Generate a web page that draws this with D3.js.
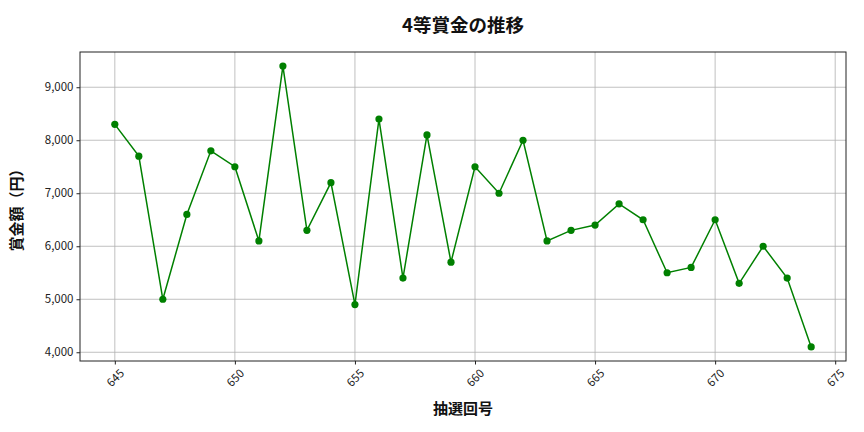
<!DOCTYPE html>
<meta charset="utf-8">
<script src="https://d3js.org/d3.v7.min.js"></script>
<style>
  body { margin: 0; background: #fff; }
  text { font-family: "Noto Sans CJK JP", "Noto Sans", sans-serif; }
</style>
<svg id="chart" width="864" height="432"></svg>
<script>
// draw numbers (抽選回号) and 4th prize amounts (円)
var draws = [645, 646, 647, 648, 649, 650, 651, 652, 653, 654, 655, 656, 657, 658, 659,
             660, 661, 662, 663, 664, 665, 666, 667, 668, 669, 670, 671, 672, 673, 674]
var prizes = [8300, 7700, 5000, 6600, 7800, 7500, 6100, 9400, 6300, 7200, 4900, 8400, 5400, 8100, 5700,
              7500, 7000, 8000, 6100, 6300, 6400, 6800, 6500, 5500, 5600, 6500, 5300, 6000, 5400, 4100]
var xTicks = [645, 650, 655, 660, 665, 670, 675]
var yTicks = [4000, 5000, 6000, 7000, 8000, 9000]
var titleText = "4等賞金の推移"
var xLabel = "抽選回号"
var yLabel = "賞金額（円）"

var svg = d3.select("#chart")
// plot box (window.top is read-only, so prefixed names)
var pLeft = 80, pRight = 846, pTop = 52, pBottom = 361

// matplotlib-style 5% margins
var xPad = (d3.max(draws) - d3.min(draws)) * 0.05
var yPad = (d3.max(prizes) - d3.min(prizes)) * 0.05
var x = d3.scaleLinear()
  .domain([d3.min(draws) - xPad, d3.max(draws) + xPad])
  .range([pLeft, pRight])
var y = d3.scaleLinear()
  .domain([d3.min(prizes) - yPad, d3.max(prizes) + yPad])
  .range([pBottom, pTop])

// grid
svg.append("g").selectAll("line")
  .data(xTicks.filter(function(d){ return x(d) <= pRight }))
  .join("line")
    .attr("x1", function(d){ return x(d) }).attr("x2", function(d){ return x(d) })
    .attr("y1", pTop).attr("y2", pBottom)
    .attr("stroke", "#b0b0b0").attr("stroke-width", 0.8)
svg.append("g").selectAll("line")
  .data(yTicks)
  .join("line")
    .attr("x1", pLeft).attr("x2", pRight)
    .attr("y1", function(d){ return y(d) }).attr("y2", function(d){ return y(d) })
    .attr("stroke", "#b0b0b0").attr("stroke-width", 0.8)

// axes
var fmt = d3.format(",")
var xAxis = svg.append("g")
  .attr("transform", "translate(0," + pBottom + ")")
  .call(d3.axisBottom(x).tickValues(xTicks).tickSize(3.5).tickPadding(3))
xAxis.select(".domain").remove()
xAxis.selectAll(".tick line").attr("stroke", "#222")
// labels rotated 45deg around their centre, like matplotlib
xAxis.selectAll("text")
  .attr("font-size", 11.5).attr("fill", "#222")
  .attr("text-anchor", "middle")
  .attr("x", 0).attr("y", 0).attr("dy", "0.35em")
  .attr("transform", "translate(0,17) rotate(-45)")

var yAxis = svg.append("g")
  .attr("transform", "translate(" + pLeft + ",0)")
  .call(d3.axisLeft(y).tickValues(yTicks).tickFormat(fmt).tickSize(3.5).tickPadding(3))
yAxis.select(".domain").remove()
yAxis.selectAll(".tick line").attr("stroke", "#222")
yAxis.selectAll("text").attr("font-size", 11.5).attr("fill", "#222")

// frame
svg.append("rect")
  .attr("x", pLeft).attr("y", pTop)
  .attr("width", pRight - pLeft).attr("height", pBottom - pTop)
  .attr("fill", "none").attr("stroke", "#222").attr("stroke-width", 1)

// line + markers
var line = d3.line()
  .x(function(d, i){ return x(draws[i]) })
  .y(function(d){ return y(d) })
svg.append("path")
  .datum(prizes)
  .attr("d", line)
  .attr("fill", "none").attr("stroke", "green").attr("stroke-width", 1.5)
svg.append("g").selectAll("circle")
  .data(prizes)
  .join("circle")
    .attr("cx", function(d, i){ return x(draws[i]) })
    .attr("cy", function(d){ return y(d) })
    .attr("r", 3.6)
    .attr("fill", "green")

// labels
svg.append("text")
  .attr("x", (pLeft + pRight) / 2).attr("y", 32)
  .attr("text-anchor", "middle")
  .attr("font-size", 18.5).attr("font-weight", "bold").attr("fill", "#111")
  .text(titleText)
svg.append("text")
  .attr("x", (pLeft + pRight) / 2).attr("y", 414)
  .attr("text-anchor", "middle")
  .attr("font-size", 15).attr("font-weight", "bold").attr("fill", "#111")
  .text(xLabel)
svg.append("text")
  .attr("transform", "translate(22," + ((pTop + pBottom) / 2) + ") rotate(-90)")
  .attr("text-anchor", "middle")
  .attr("font-size", 15).attr("font-weight", "bold").attr("fill", "#111")
  .text(yLabel)
</script>
